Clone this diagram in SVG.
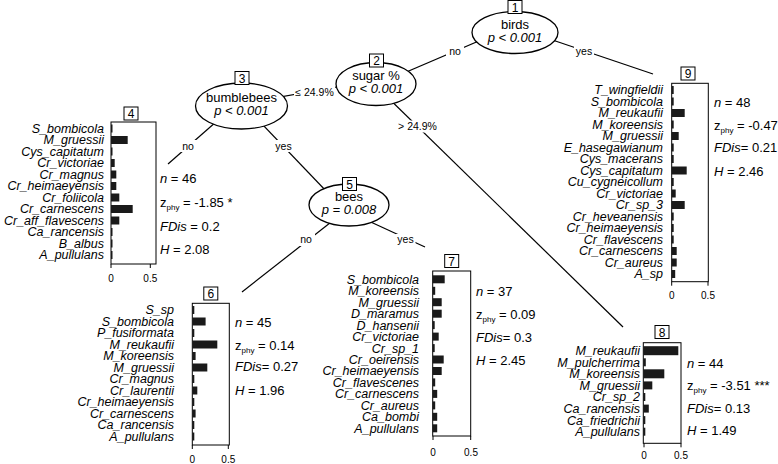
<svg xmlns="http://www.w3.org/2000/svg" width="778" height="464" viewBox="0 0 778 464">
<style>
.ln{stroke:#000;stroke-width:1.2;fill:none}
.nd{fill:#fff;stroke:#000;stroke-width:1.3}
.nt{font-family:"Liberation Sans",Arial,sans-serif;font-size:13px;text-anchor:middle}
.it{font-style:italic}
.idb{fill:#fff;stroke:#000;stroke-width:1}
.idt{font-family:"Liberation Sans",Arial,sans-serif;font-size:12px;text-anchor:middle}
.eb{fill:#fff}
.el{font-family:"Liberation Sans",Arial,sans-serif;font-size:10.5px;text-anchor:middle}
.lb{font-family:"Liberation Sans",Arial,sans-serif;font-size:12.5px;font-style:italic;text-anchor:end}
.st{font-family:"Liberation Sans",Arial,sans-serif;font-size:13px}
.sub{font-size:8px}
.fr{fill:none;stroke:#000;stroke-width:1}
.bar{fill:#1a1a1a}
.ax{font-family:"Liberation Sans",Arial,sans-serif;font-size:10px;text-anchor:middle}
.tk{stroke:#000;stroke-width:1}
</style>

<g id="connectors">
  <line class="ln" x1="514" y1="26" x2="376" y2="85"/>
  <line class="ln" x1="514" y1="27" x2="653" y2="74"/>
  <line class="ln" x1="376" y1="80" x2="241" y2="104"/>
  <line class="ln" x1="376" y1="86" x2="623" y2="327"/>
  <line class="ln" x1="241" y1="100" x2="168" y2="164"/>
  <line class="ln" x1="241" y1="102" x2="349" y2="215"/>
  <line class="ln" x1="349" y1="208" x2="242" y2="292"/>
  <line class="ln" x1="349" y1="212" x2="425" y2="247"/>
  <rect class="eb" x="446" y="45" width="18" height="12"/>
  <text class="el" x="455" y="54.5">no</text>
  <rect class="eb" x="574" y="45" width="20" height="12"/>
  <text class="el" x="584" y="54.5">yes</text>
  <rect class="eb" x="294" y="86" width="41" height="12"/>
  <text class="el" x="314.5" y="95.5">≤ 24.9%</text>
  <rect class="eb" x="397" y="120.5" width="41" height="12"/>
  <text class="el" x="417.5" y="130">&gt; 24.9%</text>
  <rect class="eb" x="179" y="140" width="18" height="12"/>
  <text class="el" x="188" y="149.5">no</text>
  <rect class="eb" x="273.5" y="140" width="20" height="12"/>
  <text class="el" x="283.5" y="149.5">yes</text>
  <rect class="eb" x="297" y="234" width="18" height="12"/>
  <text class="el" x="306" y="243">no</text>
  <rect class="eb" x="395.5" y="234" width="20" height="12"/>
  <text class="el" x="405.5" y="243">yes</text>
</g>

<g id="node1">
  <ellipse class="nd" cx="515" cy="32.5" rx="43" ry="21"/>
  <rect class="idb" x="508" y="0.5" width="14" height="13"/>
  <text class="idt" x="515" y="11.5">1</text>
  <text class="nt" x="515" y="28.5">birds</text>
  <text class="nt it" x="515" y="41.5">p &lt; 0.001</text>
</g>

<g id="node2">
  <ellipse class="nd" cx="376" cy="84" rx="40" ry="21.5"/>
  <rect class="idb" x="369.5" y="54" width="14" height="13"/>
  <text class="idt" x="376.5" y="65">2</text>
  <text class="nt" x="376" y="79.5">sugar %</text>
  <text class="nt it" x="376" y="92.5">p &lt; 0.001</text>
</g>

<g id="node3">
  <ellipse class="nd" cx="241.5" cy="106" rx="46" ry="23"/>
  <rect class="idb" x="235" y="71.5" width="14" height="13"/>
  <text class="idt" x="242" y="82.5">3</text>
  <text class="nt" x="241.5" y="101.5">bumblebees</text>
  <text class="nt it" x="241.5" y="114.5">p &lt; 0.001</text>
</g>

<g id="node5">
  <ellipse class="nd" cx="349" cy="205" rx="40" ry="21"/>
  <rect class="idb" x="342.5" y="177.5" width="14" height="13"/>
  <text class="idt" x="349.5" y="188.5">5</text>
  <text class="nt" x="349" y="200.5">bees</text>
  <text class="nt it" x="349" y="213.5">p = 0.008</text>
</g>

<g id="node4">
  <rect class="idb" x="124" y="107" width="14" height="13"/>
  <text class="idt" x="131" y="118">4</text>
  <rect class="fr" x="111" y="122" width="45" height="142"/>
  <g class="bar">
    <rect x="111" y="124.5" width="1.5" height="8"/>
    <rect x="111" y="136" width="16.7" height="8"/>
    <rect x="111" y="147.5" width="1.5" height="8"/>
    <rect x="111" y="159" width="3.7" height="8"/>
    <rect x="111" y="170.5" width="5.3" height="8"/>
    <rect x="111" y="182" width="5.3" height="8"/>
    <rect x="111" y="193.5" width="8.3" height="8"/>
    <rect x="111" y="205" width="21.7" height="8"/>
    <rect x="111" y="216.5" width="8.3" height="8"/>
    <rect x="111" y="228" width="1.5" height="8"/>
    <rect x="111" y="239.5" width="1.5" height="8"/>
    <rect x="111" y="251" width="1.5" height="8"/>
  </g>
  <text class="lb" x="104" y="132.9">S_bombicola</text>
  <text class="lb" x="104" y="144.4">M_gruessii</text>
  <text class="lb" x="104" y="155.9">Cys_capitatum</text>
  <text class="lb" x="104" y="167.4">Cr_victoriae</text>
  <text class="lb" x="104" y="178.9">Cr_magnus</text>
  <text class="lb" x="104" y="190.4">Cr_heimaeyensis</text>
  <text class="lb" x="104" y="201.9">Cr_foliicola</text>
  <text class="lb" x="104" y="213.4">Cr_carnescens</text>
  <text class="lb" x="104" y="224.9">Cr_aff_flavescens</text>
  <text class="lb" x="104" y="236.4">Ca_rancensis</text>
  <text class="lb" x="104" y="247.9">B_albus</text>
  <text class="lb" x="104" y="259.4">A_pullulans</text>
  <line class="tk" x1="111" y1="264" x2="111" y2="268"/>
  <line class="tk" x1="150.3" y1="264" x2="150.3" y2="268"/>
  <text class="ax" x="111" y="282">0</text>
  <text class="ax" x="150.3" y="282">0.5</text>
  <text class="st" x="160" y="182.5"><tspan class="it">n</tspan> = 46</text>
  <text class="st" x="160" y="206.5">z<tspan class="sub" dy="3">phy</tspan><tspan dy="-3"> = -1.85 *</tspan></text>
  <text class="st" x="160" y="230.5"><tspan class="it">FDis</tspan> = 0.2</text>
  <text class="st" x="160" y="253.5"><tspan class="it">H</tspan> = 2.08</text>
</g>

<g id="node6">
  <rect class="idb" x="203.8" y="287" width="14" height="13"/>
  <text class="idt" x="210.8" y="298">6</text>
  <rect class="fr" x="192.3" y="303.3" width="37" height="141.7"/>
  <g class="bar">
    <rect x="192.3" y="306" width="2" height="8"/>
    <rect x="192.3" y="317.5" width="13.3" height="8"/>
    <rect x="192.3" y="329" width="2" height="8"/>
    <rect x="192.3" y="340.5" width="25" height="8"/>
    <rect x="192.3" y="352" width="3.3" height="8"/>
    <rect x="192.3" y="363.5" width="15" height="8"/>
    <rect x="192.3" y="375" width="2" height="8"/>
    <rect x="192.3" y="386.5" width="5" height="8"/>
    <rect x="192.3" y="398" width="2" height="8"/>
    <rect x="192.3" y="409.5" width="3.3" height="8"/>
    <rect x="192.3" y="421" width="2" height="8"/>
    <rect x="192.3" y="432.5" width="2" height="8"/>
  </g>
  <text class="lb" x="174" y="314.4">S_sp</text>
  <text class="lb" x="174" y="325.9">S_bombicola</text>
  <text class="lb" x="174" y="337.4">P_fusiformata</text>
  <text class="lb" x="174" y="348.9">M_reukaufii</text>
  <text class="lb" x="174" y="360.4">M_koreensis</text>
  <text class="lb" x="174" y="371.9">M_gruessii</text>
  <text class="lb" x="174" y="383.4">Cr_magnus</text>
  <text class="lb" x="174" y="394.9">Cr_laurentii</text>
  <text class="lb" x="174" y="406.4">Cr_heimaeyensis</text>
  <text class="lb" x="174" y="417.9">Cr_carnescens</text>
  <text class="lb" x="174" y="429.4">Ca_rancensis</text>
  <text class="lb" x="174" y="440.9">A_pullulans</text>
  <line class="tk" x1="192.3" y1="445" x2="192.3" y2="449"/>
  <line class="tk" x1="228.3" y1="445" x2="228.3" y2="449"/>
  <text class="ax" x="192.3" y="462.5">0</text>
  <text class="ax" x="228.3" y="462.5">0.5</text>
  <text class="st" x="235" y="327"><tspan class="it">n</tspan> = 45</text>
  <text class="st" x="235" y="349.5">z<tspan class="sub" dy="3">phy</tspan><tspan dy="-3"> = 0.14</tspan></text>
  <text class="st" x="235" y="371"><tspan class="it">FDis</tspan>= 0.27</text>
  <text class="st" x="235" y="394.5"><tspan class="it">H</tspan> = 1.96</text>
</g>

<g id="node7">
  <rect class="idb" x="444.7" y="254.5" width="14" height="13"/>
  <text class="idt" x="451.7" y="265.5">7</text>
  <rect class="fr" x="432.7" y="271" width="38" height="165"/>
  <g class="bar">
    <rect x="432.7" y="275.3" width="12" height="8"/>
    <rect x="432.7" y="286.8" width="2.5" height="8"/>
    <rect x="432.7" y="298.2" width="9" height="8"/>
    <rect x="432.7" y="309.7" width="9" height="8"/>
    <rect x="432.7" y="321.1" width="2" height="8"/>
    <rect x="432.7" y="332.6" width="6" height="8"/>
    <rect x="432.7" y="344.1" width="2" height="8"/>
    <rect x="432.7" y="355.5" width="11" height="8"/>
    <rect x="432.7" y="367" width="9" height="8"/>
    <rect x="432.7" y="378.4" width="2.5" height="8"/>
    <rect x="432.7" y="389.9" width="4.5" height="8"/>
    <rect x="432.7" y="401.4" width="2.5" height="8"/>
    <rect x="432.7" y="412.8" width="4.5" height="8"/>
    <rect x="432.7" y="424.3" width="4.5" height="8"/>
  </g>
  <text class="lb" x="419" y="283.7">S_bombicola</text>
  <text class="lb" x="419" y="295.2">M_koreensis</text>
  <text class="lb" x="419" y="306.6">M_gruessii</text>
  <text class="lb" x="419" y="318.1">D_maramus</text>
  <text class="lb" x="419" y="329.5">D_hansenii</text>
  <text class="lb" x="419" y="341">Cr_victoriae</text>
  <text class="lb" x="419" y="352.5">Cr_sp_1</text>
  <text class="lb" x="419" y="363.9">Cr_oeirensis</text>
  <text class="lb" x="419" y="375.4">Cr_heimaeyensis</text>
  <text class="lb" x="419" y="386.8">Cr_flavescenes</text>
  <text class="lb" x="419" y="398.3">Cr_carnescens</text>
  <text class="lb" x="419" y="409.8">Cr_aureus</text>
  <text class="lb" x="419" y="421.2">Ca_bombi</text>
  <text class="lb" x="419" y="432.7">A_pullulans</text>
  <line class="tk" x1="433" y1="436" x2="433" y2="440"/>
  <line class="tk" x1="470.7" y1="436" x2="470.7" y2="440"/>
  <text class="ax" x="433" y="455.5">0</text>
  <text class="ax" x="471" y="455.5">0.5</text>
  <text class="st" x="476" y="295.5"><tspan class="it">n</tspan> = 37</text>
  <text class="st" x="476" y="318.5">z<tspan class="sub" dy="3">phy</tspan><tspan dy="-3"> = 0.09</tspan></text>
  <text class="st" x="476" y="341.5"><tspan class="it">FDis</tspan>= 0.3</text>
  <text class="st" x="476" y="364.5"><tspan class="it">H</tspan> = 2.45</text>
</g>

<g id="node8">
  <rect class="idb" x="655" y="325.5" width="14" height="13"/>
  <text class="idt" x="662" y="336.5">8</text>
  <rect class="fr" x="643.3" y="342.7" width="37.7" height="100.6"/>
  <g class="bar">
    <rect x="643.3" y="346.2" width="35" height="9"/>
    <rect x="643.3" y="358.3" width="2.5" height="8"/>
    <rect x="643.3" y="369.3" width="21" height="9"/>
    <rect x="643.3" y="381.4" width="9" height="8"/>
    <rect x="643.3" y="393" width="2" height="8"/>
    <rect x="643.3" y="404.6" width="5.5" height="8"/>
    <rect x="643.3" y="416.1" width="2" height="8"/>
    <rect x="643.3" y="427.7" width="2" height="8"/>
  </g>
  <text class="lb" x="640" y="355.1">M_reukaufii</text>
  <text class="lb" x="640" y="366.7">M_pulcherrima</text>
  <text class="lb" x="640" y="378.2">M_koreensis</text>
  <text class="lb" x="640" y="389.8">M_gruessii</text>
  <text class="lb" x="640" y="401.4">Cr_sp_2</text>
  <text class="lb" x="640" y="413">Ca_rancensis</text>
  <text class="lb" x="640" y="424.5">Ca_friedrichii</text>
  <text class="lb" x="640" y="436.1">A_pullulans</text>
  <line class="tk" x1="644" y1="443.3" x2="644" y2="447.3"/>
  <line class="tk" x1="681" y1="443.3" x2="681" y2="447.3"/>
  <text class="ax" x="644" y="458.5">0</text>
  <text class="ax" x="681" y="458.5">0.5</text>
  <text class="st" x="687" y="367.5"><tspan class="it">n</tspan> = 44</text>
  <text class="st" x="687" y="390">z<tspan class="sub" dy="3">phy</tspan><tspan dy="-3"> = -3.51 ***</tspan></text>
  <text class="st" x="687" y="412.5"><tspan class="it">FDis</tspan>= 0.13</text>
  <text class="st" x="687" y="434.5"><tspan class="it">H</tspan> = 1.49</text>
</g>

<g id="node9">
  <rect class="idb" x="681" y="67" width="14" height="13"/>
  <text class="idt" x="688" y="78">9</text>
  <rect class="fr" x="671.7" y="83.3" width="36.6" height="198.4"/>
  <g class="bar">
    <rect x="671.7" y="86" width="2" height="8"/>
    <rect x="671.7" y="97.5" width="2" height="8"/>
    <rect x="671.7" y="109" width="13" height="8"/>
    <rect x="671.7" y="120.5" width="2" height="8"/>
    <rect x="671.7" y="132" width="7" height="8"/>
    <rect x="671.7" y="143.5" width="2" height="8"/>
    <rect x="671.7" y="155" width="2" height="8"/>
    <rect x="671.7" y="166.5" width="15" height="8"/>
    <rect x="671.7" y="178" width="2" height="8"/>
    <rect x="671.7" y="189.5" width="4" height="8"/>
    <rect x="671.7" y="201" width="13" height="8"/>
    <rect x="671.7" y="212.5" width="2" height="8"/>
    <rect x="671.7" y="224" width="2" height="8"/>
    <rect x="671.7" y="235.5" width="2" height="8"/>
    <rect x="671.7" y="247" width="5" height="8"/>
    <rect x="671.7" y="258.5" width="5" height="8"/>
    <rect x="671.7" y="270" width="3.5" height="8"/>
  </g>
  <text class="lb" x="663" y="94.4">T_wingfieldii</text>
  <text class="lb" x="663" y="105.9">S_bombicola</text>
  <text class="lb" x="663" y="117.4">M_reukaufii</text>
  <text class="lb" x="663" y="128.9">M_koreensis</text>
  <text class="lb" x="663" y="140.4">M_gruessii</text>
  <text class="lb" x="663" y="151.9">E_hasegawianum</text>
  <text class="lb" x="663" y="163.4">Cys_macerans</text>
  <text class="lb" x="663" y="174.9">Cys_capitatum</text>
  <text class="lb" x="663" y="186.4">Cu_cygneicollum</text>
  <text class="lb" x="663" y="197.9">Cr_victoriae</text>
  <text class="lb" x="663" y="209.4">Cr_sp_3</text>
  <text class="lb" x="663" y="220.9">Cr_heveanensis</text>
  <text class="lb" x="663" y="232.4">Cr_heimaeyensis</text>
  <text class="lb" x="663" y="243.9">Cr_flavescens</text>
  <text class="lb" x="663" y="255.4">Cr_carnescens</text>
  <text class="lb" x="663" y="266.9">Cr_aureus</text>
  <text class="lb" x="663" y="278.4">A_sp</text>
  <line class="tk" x1="671.7" y1="281.7" x2="671.7" y2="285.7"/>
  <line class="tk" x1="708" y1="281.7" x2="708" y2="285.7"/>
  <text class="ax" x="671.7" y="298.5">0</text>
  <text class="ax" x="708" y="298.5">0.5</text>
  <text class="st" x="714" y="107"><tspan class="it">n</tspan> = 48</text>
  <text class="st" x="714" y="129.5">z<tspan class="sub" dy="3">phy</tspan><tspan dy="-3"> = -0.47</tspan></text>
  <text class="st" x="714" y="152"><tspan class="it">FDis</tspan>= 0.21</text>
  <text class="st" x="714" y="175.5"><tspan class="it">H</tspan> = 2.46</text>
</g>
</svg>
